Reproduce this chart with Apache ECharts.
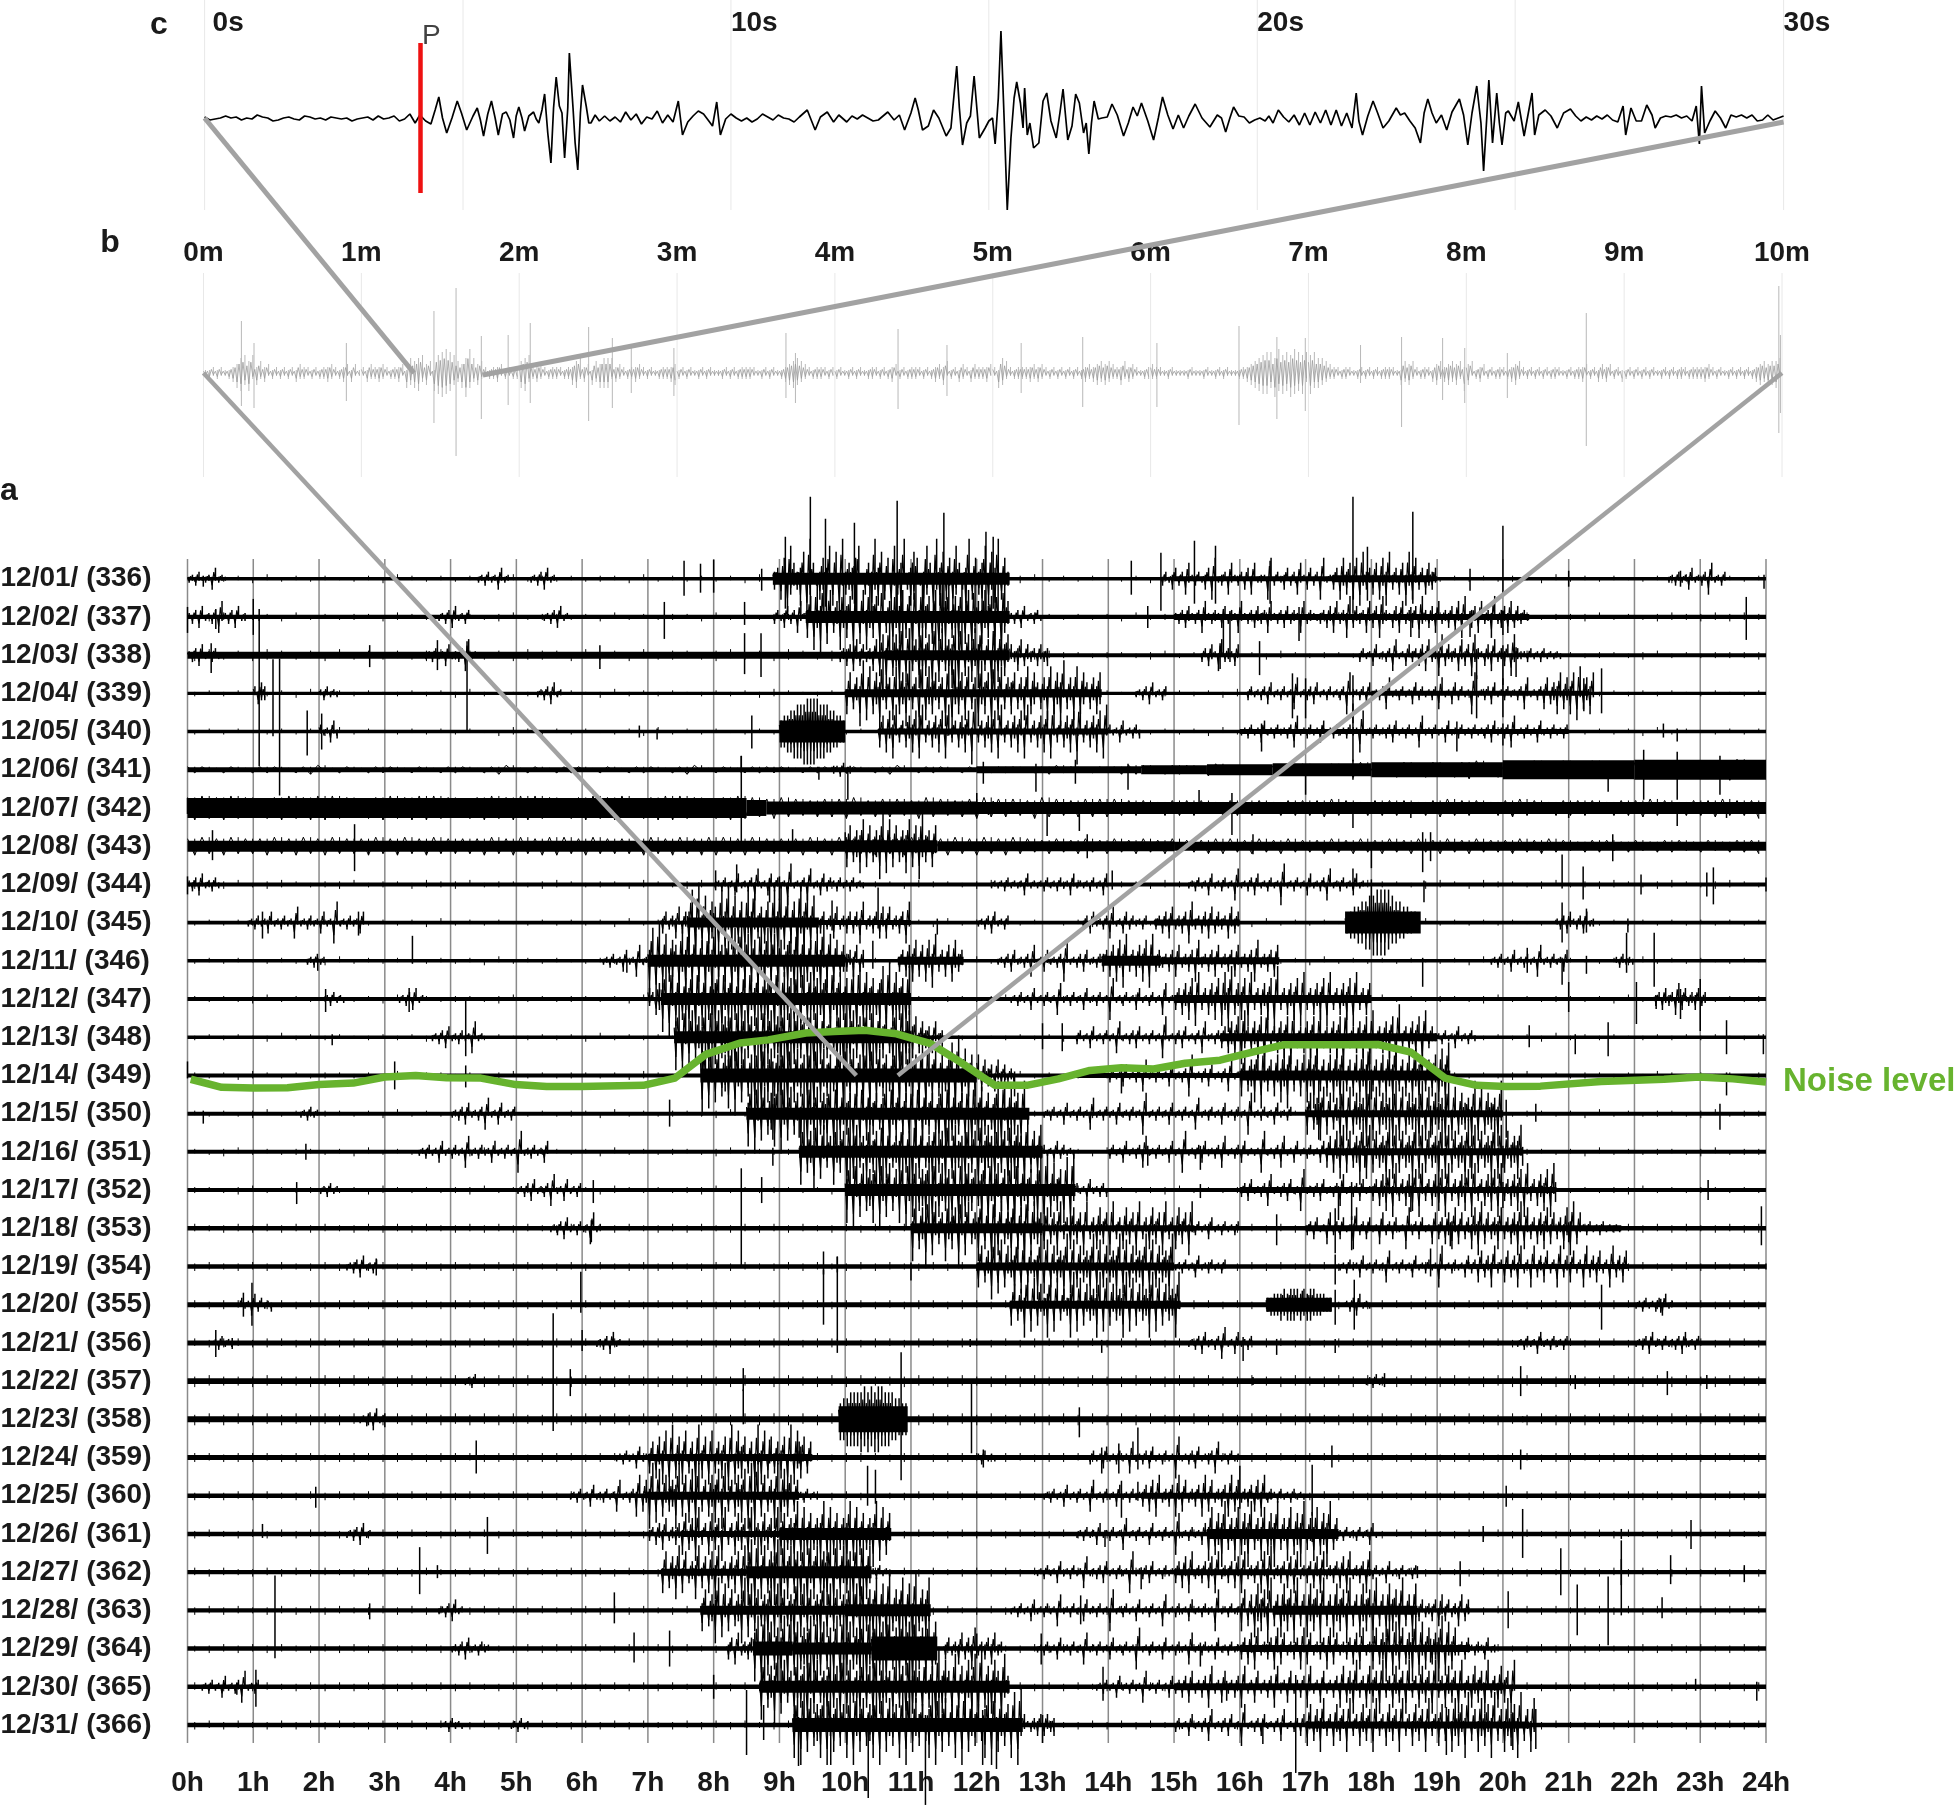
<!DOCTYPE html>
<html><head><meta charset="utf-8">
<style>html,body{margin:0;padding:0;background:#fff}#c{width:1954px;height:1805px;overflow:hidden}</style>
<script src="https://cdn.jsdelivr.net/npm/echarts@6/dist/echarts.min.js"></script>
</head><body><div id="c"></div>
<script>
const hourLabels = Array.from({length:25},(_, i)=>i+'h');
const dayLabels = ['12/01/ (336)','12/02/ (337)','12/03/ (338)','12/04/ (339)','12/05/ (340)','12/06/ (341)','12/07/ (342)','12/08/ (343)','12/09/ (344)','12/10/ (345)','12/11/ (346)','12/12/ (347)','12/13/ (348)','12/14/ (349)','12/15/ (350)','12/16/ (351)','12/17/ (352)','12/18/ (353)','12/19/ (354)','12/20/ (355)','12/21/ (356)','12/22/ (357)','12/23/ (358)','12/24/ (359)','12/25/ (360)','12/26/ (361)','12/27/ (362)','12/28/ (363)','12/29/ (364)','12/30/ (365)','12/31/ (366)'];
const secondGrid = [0,4.91,10,14.9,20,24.9,30];
const minuteGrid = [0,1,2,3,4,5,6,7,8,9,10];

// Noise level curve: [hour, row position]
const noiseLevel = [[0.05,13.1],[0.52,13.31],[1,13.33],[1.52,13.32],[2,13.24],[2.52,13.2],[3,13.04],[3.47,13],[3.94,13.06],[4.46,13.07],[4.99,13.24],[5.46,13.29],[5.98,13.29],[6.93,13.26],[7.41,13.07],[7.88,12.45],[8.4,12.15],[8.83,12.07],[9.4,11.89],[9.83,11.85],[10.3,11.82],[10.78,11.91],[11.3,12.17],[11.75,12.65],[12.28,13.26],[12.76,13.26],[13.24,13.09],[13.72,12.87],[14.2,12.8],[14.69,12.83],[15.17,12.68],[15.7,12.6],[16.19,12.39],[16.66,12.2],[17.6,12.2],[18.1,12.19],[18.6,12.39],[19.12,13.07],[19.6,13.26],[20.04,13.29],[20.57,13.28],[21.49,13.16],[22.45,13.1],[22.98,13.04],[23.5,13.09],[24,13.17]];

// Panel a: solid trace thickness per day: [from h, to h, half thickness]
const bandRows = [
[[0,24,1.8],[8.9,12.5,6],[15,19,2.5],[17.4,18.9,3.5]],
[[0,24,2.2],[9.4,12.5,6],[15,20.4,3]],
[[0,12.5,3.5],[12.5,24,2],[10.6,12.5,5]],
[[0,24,1.6],[10,13.3,4],[13,13.9,4],[18,21.3,2.5]],
[[0,24,1.7],[9,10,11],[10.5,14,3],[16,21,2.5]],
[[0,12,2.5],[12,14.5,3.5],[14.5,15.5,4.5],[15.5,16.5,5.5],[16.5,18,6.5],[18,20,7.5],[20,22,9.5],[22,24,10]],
[[0,8.5,10],[8.5,8.8,8],[8.8,12,6.5],[12,24,6]],
[[0,10,5.5],[10,11.4,6],[11.4,15,5],[15,24,4.5]],
[[0,24,2]],
[[0,24,1.8],[7.6,9.6,5],[9.6,11,2.5],[14.7,16,3],[17.6,18.75,11]],
[[0,24,1.8],[7,10,6],[10.8,11.8,4],[13.9,14.8,5],[14.8,16.6,3.5]],
[[0,24,2],[7.2,11,6],[15,18,4]],
[[0,24,1.8],[7.4,11,6],[15.7,19,4]],
[[0,24,2],[7.8,12,7],[16,19.2,5],[13.5,16,2.5]],
[[0,24,2],[8.5,12.8,6],[17,20,3.5]],
[[0,24,2],[9.3,13,6],[17.3,20.3,3.5],[14,17.3,2.5]],
[[0,24,2],[10,13.5,6],[16,20.8,3]],
[[0,24,2.3],[11,13,5],[13,15.3,3],[17,21.8,3]],
[[0,24,2.2],[12,15,4],[19.5,21.9,2.5]],
[[0,24,2.5],[12.5,15.1,4],[16.4,17.4,7]],
[[0,24,2.5]],
[[0,24,2.8]],
[[0,24,3],[9.9,10.95,13]],
[[0,24,2.5],[7,9.5,3.5]],
[[0,24,2.2],[7,9.3,4],[14.5,16.5,3]],
[[0,24,2.2],[7.5,9,3],[9,10.7,6],[15.5,17.5,5]],
[[0,24,2.2],[7.2,8.5,3.5],[8.5,10.4,6],[15,18,3]],
[[0,24,2.2],[7.8,10,4.5],[10,11.3,6],[16.5,18.7,4.5]],
[[0,24,2.2],[8.6,9.2,7],[9.2,10.4,6],[10.4,11.4,12],[16,19.5,3.5]],
[[0,24,2.2],[8.7,12.5,6],[15,20,3.5]],
[[0,24,2.2],[9.2,12.7,7],[17,20.4,3.5]]
];

// Panel a: small roughness of the trace across each whole day
const fuzzRows = [
"1212131212112132121211312121221312121213211212213121121212312121121321212212131212113212121221312121121321212",
"2132121312122132121212312212131212213121222131212123121221321212131221212131212321212231212131222312123223232",
"3423243232423232342323243324232423323423243234232332423243232212212312121213212212131212212132121221231212222",
"1212112131212112121312112121131212112121321121212112131212121312112121213211212131212121131212112121212112112",
"1212112121312112121211321212112131212112121321211212131212112132121212131212112132121211213121211212131211212",
"2212122123121221212212312122121221231212221221212312212122123212233233243323343435445454564556565655656566576",
"7878767878876787887678788767878678876787676566756657656766576566655455545554555654555456554565455545565455655",
"5656556565655656565556565665655565656656555656556565565656545454545454455454544545454545454454543443434434344",
"2323123212231221322312212321221321232122123123122132212312212321221322132212312213221232132212312232123212321",
"1212121312121212131212112121213121211212131212121121312121211213121212112131212112121312121211213121212121212",
"1212112121312121121213121211212131212112121312121211213121212112131212112121213121212112131212121121312121121",
"2121231212212131212212312122121312122123121221213121221231212212131212212312122121312122123121221213121221212",
"1212113121211212131212112121312121121213121211212131212112121312121121213121211212131212112121312121121212112",
"2121321212212131221212312122121321212212312122121312212123121221213212122123121221213122121231212212132121212",
"2121231212212131212212312122131212212312122121312122123121221213121221231212212131212212312122121312122123122",
"2123121221213121221231212212131212212312122121312122123121221213121221231212212131212212312122121312122123122",
"2212312122121321212231212212132121223121221213212122312122121321212231212212132121223121221213212122312122121",
"3223232323223232322323232232323223232232323223232322323232232323223232322323232232323223232232323223232322323",
"2322323223232322323223232232322323223232232322323223232322323223232232322323223232232322323223232232322323223",
"3233233232332332323323323233233232332332323323323233233232332332323323323233233232332332323323323233233232332",
"3233233233233233232332332333233233232332332333233233233232332332333233233233232332332333233233232332332332332",
"3433343334343334334334343334334334343343343343433343343343433343343343433433433434334334334343343343343433433",
"3434343434343343434343433434343434334343434343343434343433434343434334343434343343434343433434343434334343434",
"3323332332333233233323323332332333233233323323332332333233233323323332332333233233323323332332333233233323323",
"2323232232323223232322323232232323223232322323232232323223232322323232232323223232322323232232323223232322323",
"2322323232232323223232322323232232323223232322323232232323223232322323232232323223232322323232232323223232322",
"3232232323223232322323232232323223232322323232232323223232322323232232323223232322323232232323223232322323232",
"2323223232322323232232323223232322323232232323223232322323232232323223232322323232232323223232322323232232323",
"2232323223232322323232232323223232322323232232323223232322323232232323223232322323232232323223232322323232232",
"3223232232323223232322323232232323223232322323232232323223232322323232232323223232322323232232323223232322323",
"2323223232322323232232323223232322323232232323223232322323232232323223232322323232232323223232322323232232323"
];
const thickRows = [5,6,7];

// Panel a: envelope read per stretch of the day: [from h, to h, digits]
const burstRows = [
[[0,0.6,"121311214121"],[4.4,4.9,"1213121412"],[5.2,5.6,"12131412"],[8.9,12.5,"3426185347295136482719354682153947261835924761385294716385249163582749163"],[14.8,17.4,"1312413152131241612315213141512216131241315214131612"],[17.4,19,"24163526173425163724152736241534"],[22.5,23.4,"121312141213151213"]],
[[0,0.9,"213141213152131412"],[3.8,4.3,"1213141213"],[5.4,5.8,"12131412"],[8.9,9.4,"1312413152"],[9.4,12.5,"36284927153846291738462915384726193846271958364827195374628195"],[12.5,13,"2131412131"],[15,17.2,"21314213152132141321521314231521314132151321"],[17.2,20.4,"2314251326142315241632142513241631425132415261342513261342514231"]],
[[0,0.5,"2131412131"],[3.6,4.4,"1213121412131512"],[9.9,10.6,"13241524132516"],[10.6,12.5,"38264927153846291735482916374825193746"],[12.5,13.1,"423514231423"],[15.4,16,"131421513214"],[17.8,18.6,"1312141213151214"],[18.6,20.3,"2314251326142315241632142513241632"],[20.3,20.9,"213121312121"]],
[[1,1.2,"3143"],[2,2.3,"213121"],[5.3,5.7,"12131412"],[10,12.5,"26153827164935172648351927463518294637152846193725"],[12.5,13.9,"4615372641537264815372641536"],[14.4,14.9,"1213141213"],[16.1,20.6,"131213141213121512131412131213161213141213151213121413121315121413121612131412131213151213"],[20.6,21.4,"2514362536172536"]],
[[2,2.3,"312141"],[9,10,"45566777888877766554"],[10.5,14,"2516372415362714253617241536281425361724153627142536172415362814253617"],[14,14.5,"3121412131"],[16,21,"1213121412131213151213121412131213121612131213141213121512131214121312131213141213151213121412131213"]],
[[9.8,10.1,"221312"]],
[[12,12.5,"1213121"]],
[[10,11.4,"3615472635481736254716384526"]],
[[0,0.5,"2131412131"],[8,9.8,"121312141213151214131216121315121413"],[9.8,10.3,"2131213121"],[12.2,14,"121213121214121213121312141212131214"],[15.2,17.9,"121312141213121512131412131216121312141213151213121412"]],
[[0.9,2.7,"121312141213121512131214121612131214"],[7.2,7.6,"24132514"],[7.6,9.6,"4829371652849371628493516284937261948372"],[9.6,11,"2413251324142613241525132416"],[12,12.5,"1213141213"],[13.6,14.6,"13141213151214131213"],[14.7,16,"23142513241623142514231524"],[17.6,18.75,"34556677888876655443"],[20.8,21.4,"213142131412"]],
[[1.8,2.1,"121312"],[6.3,7,"12131214121512"],[7,10,"482937165284937162849351628493726194837261584937261849372615"],[10,10.3,"342514"],[10.8,11.8,"24153625163724152634"],[12.3,13.9,"12131412131512141213161213141213"],[13.9,14.8,"341526371425361724"],[14.8,16.6,"231425132416231425132415231426132415"],[19.8,21,"121312141213121512131214"],[21.7,22,"213121"]],
[[2.1,2.4,"213121"],[3.2,3.6,"12131412"],[7,7.2,"4315"],[7.2,11,"5829371648293716582947163829471658293746182937461582947361829374615829374618"],[12.5,15,"12131214121312151213121412131216121312141213121512"],[15,18,"241536271425361748253617241536281425361724153627142536172415"],[22.3,23.1,"2314231524132413"]],
[[3.7,4.5,"1213141213121512"],[7.4,11,"582937164829371658294716382947165829374618293746158294736182937461582937"],[11,11.5,"4625341523"],[13.5,15.7,"13121412131215121314121312161213141213151213"],[15.7,19,"241536274153628142536172415362714253618241536271425361824153627142"],[19,19.6,"213121412131"]],
[[7.8,12,"692837165829471638294716582937461829374615829473618293746158293746182947361582937461"],[12,12.6,"625341524132"],[14,16,"1312141213151213121412131612131412131512"],[16,19.2,"3615472835163748251637482516374825163749251637482516374825163748"]],
[[1.7,2,"121312"],[4,5,"12131412131512141213"],[8.5,12.8,"48293716582947163829471658293746182937461582947361829374615829374618294736158293746182"],[13,16.8,"1213121412131215121312141213121612131214121312151213121412131216121312141213"],[17,20,"361547261538271645382716453827164538271645382716453827164538"]],
[[3.5,5.5,"1213121412131215121312141213121612131214"],[9.3,13,"38264917352846193725384619273548162937254816392745183629475183629475182637"],[13,13.5,"3121413121"],[14,17.3,"131214121315121312141216121314121315121314121216121315121412131214"],[17.3,20.3,"251637261548271635482716354827163548271635482716354827163547"]],
[[2,2.3,"121312"],[5,6,"12131412131512141213"],[10,13.5,"4829371658294716382947165829374618293746158294736182937461582937461829"],[13.5,14,"3121412131"],[16,18,"1314121315121314121612131412131512131412"],[18,20.8,"24153627142536172415362714253617241536271425361724153627"]],
[[5.5,6.3,"1213141213121512"],[11,13,"3826491735284619372548162937254816392745"],[13,15.3,"2615372416352714263517241635271426351724163527"],[15.3,16,"13121412131213"],[17,19,"1314121513141216131412151314121613141215"],[19,21.2,"24153625142637152436142537162415362514263715"],[21.2,21.8,"213121312121"]],
[[2.4,2.9,"1213141213"],[12,15,"261538271634827153482716354827163548271635482716354827163548"],[15,15.8,"1213121412131213"],[17.5,19.5,"1213121412131215121312141213121612131214"],[19.5,21.9,"131514261315142613161425131614251316142513161425"]],
[[0.8,1.3,"3121413121"],[12.5,15.1,"2615382716348271534827163548271635482716354827163548"],[16.4,17.4,"33444545554545544433"],[17.6,18,"21314121"],[22,22.6,"121312131412"]],
[[0.4,0.7,"213121"],[6.2,6.6,"12131412"],[15.2,16.2,"12131412131512141213"],[20.2,21,"1213121412131213"],[22,23,"12131412131213141213"]],
[[4.2,4.4,"1213"],[17.9,18.2,"121312"]],
[[2.6,3,"12131412"],[9.9,10.95,"56677778787887776655"]],
[[6.5,7,"1213121412"],[7,9.5,"25163718263715283617253618274615283716253618274615"],[12,12.3,"213121"],[13.7,16,"1312141213121512131412131216121314121315121312"]],
[[5.8,6.8,"12131214121312151213"],[6.8,9.3,"26153827163548261738251647382516472839261538274615"],[9.3,9.6,"213121"],[13,14.5,"121312141213121512131214121312"],[14.5,16.5,"2415261324162513241625132416251324152613"],[16.5,17,"2131213121"]],
[[2.4,2.8,"12131412"],[7,7.5,"2314251324"],[7.5,9,"261537241635271426351724163527"],[9,10.7,"3615482736154827361548273615482736"],[13.5,15.5,"1213121412131215121312141213121612131214"],[15.5,17.5,"3716482537164825371648253716482537164825"],[17.5,18.1,"213121312141"]],
[[7.2,8.5,"26153726143725163724153627"],[8.5,10.4,"48293716582947163829471658293746182937"],[10.4,10.7,"213121"],[12.9,15,"121312141213121512131412131216121314121312"],[15,18,"241526132415261324152613241627132415261324152613241526132416"],[18,18.7,"13121412131213"]],
[[3.8,4.2,"12131412"],[7.8,10,"36154827361548273615482736154927361548273615"],[10,11.3,"48273916482739164827391648"],[12.5,16,"1213121412131215121312141213121612131214121312151213121412131216121312"],[16,18.7,"361527463815274638152746381527463815274638152746381527"],[18.7,19.5,"2413241524132514"]],
[[4,4.6,"121314121312"],[8.2,8.6,"24151324"],[8.6,10.4,"582937164829371658294716382947165829"],[10.4,11.4,"58374926481739264837"],[11.5,12.4,"241325142613241523"],[12.9,16,"12131214121312151213121412131216121312141213121512131214121312"],[16,18,"2415261324162513241625132416251324152613"],[18,19.3,"36154827361548273615482736"],[19.3,19.9,"231421321412"]],
[[0.2,1.1,"121312141213151213"],[8.7,12.5,"3826491735284619372548162937254816392745183629475183629475182637482916375284"],[13.8,15,"121312141213121512131214"],[15,17.5,"13141513141613151314161315131416131513141613151314"],[17.5,20.2,"261537241635271426351724163527142635172416352714263517"]],
[[3.9,4.2,"213121"],[4.9,5.2,"121312"],[9.2,12.7,"4829371658294716382947165829374618293746158294736182937461582937461829"],[12.7,13.2,"4213241423"],[15,17,"1312141213151213141216121314121315121314"],[17,19,"2615372416352714263517241635271426351724"],[19,20.5,"361527463815274638152746381527"]]
];

// Panel a: single tall spikes per day: [hour, up, down]
const spikeRows = [
[[0.24,3,8],[7.55,18,17],[7.8,15,14],[8,19,14],[8.73,10,12],[9.09,42,30],[9.47,82,30],[9.7,60,28],[10.14,56,25],[10.79,78,35],[11.5,66,32],[12.14,47,36],[12.25,42,30],[14.35,18,16],[14.8,26,32],[15.31,38,25],[15.63,33,25],[16.46,18,25],[17.72,82,35],[17.94,32,22],[18.63,67,25],[19.5,10,12],[20,53,15],[21,8,8],[22.7,8,8],[23.97,4,10]],
[[0,10,16],[0.43,8,12],[1,18,18],[1.09,8,4],[7.25,15,22],[8.47,15,8],[14.6,11,11],[15.75,8,40],[15.85,6,45],[16.9,10,24],[18.6,10,20],[19.5,6,20],[20,6,18],[23.7,20,23]],
[[0.36,12,18],[2.77,10,12],[3.8,15,15],[6.27,10,14],[8.47,22,19],[8.72,22,22],[15.7,12,14],[16.3,14,20],[19.6,6,24],[20,10,30],[20.2,8,22]],
[[1.09,75,73],[1.3,34,43],[4.25,52,38],[16.8,20,25],[17,15,25],[17.72,18,30],[19.6,18,25],[20,15,24],[21.23,15,18],[21.5,25,20]],
[[1.4,73,64],[1.82,21,24],[2.04,18,18],[6.87,6,6],[7.14,3,8],[8.58,16,17],[16.33,8,20],[17.72,28,30],[19.3,10,20],[20,8,14],[22.44,8,6],[22.65,3,10]],
[[8.42,14,3],[9.6,3,10],[10.04,3,30],[12.1,8,14],[12.9,6,22],[13.5,10,14],[14.3,6,20],[17,3,25],[17.72,10,10],[21.6,8,22],[22.14,20,30],[22.65,18,30],[23.3,14,25]],
[[0,10,6],[8.42,52,38],[12,15,8],[13.07,3,28],[13.56,3,23],[15.38,18,4],[15.88,15,27],[17.72,4,20],[18.6,3,10],[21,3,10],[22.65,3,18],[23.4,3,10]],
[[0.38,16,14],[2.54,22,25],[9.2,17,3],[10,14,3],[13.68,12,12],[16.2,12,8],[18,3,22],[18.78,14,26],[18.9,14,15],[21.67,12,15]],
[[0,8,10],[8.03,14,6],[8.35,20,8],[8.85,6,18],[9,8,16],[14.06,14,5],[17.72,16,4],[18,5,28],[18.8,4,18],[20.9,30,4],[21.22,18,15],[22.1,10,10],[23.1,12,12],[23.2,17,20],[24,7,7]],
[[1.14,11,16],[2.6,11,13],[9.8,22,8],[10.5,35,6],[11.4,4,12],[20.9,20,20],[21.27,14,10],[21.9,4,10]],
[[1.98,3,10],[3.42,25,3],[6.68,3,12],[10.42,20,8],[18.78,3,26],[20.37,13,12],[20.9,3,24],[21.27,5,13],[21.88,28,12],[22.3,28,26]],
[[2.1,10,13],[3.37,11,13],[21,17,13],[22.03,17,25],[22.33,3,10],[22.7,10,20],[23,20,32]],
[[2.2,3,8],[4.23,37,19],[13,14,12],[13.3,14,14],[20.4,12,10],[21.1,3,17],[21.6,15,19],[23.4,17,17],[23.96,3,17]],
[[0,14,3],[3.15,14,14],[4.23,10,12],[8.9,14,40],[14.2,6,18],[17.2,6,28],[18,6,24],[23.4,3,20]],
[[0.24,3,10],[7.33,14,13],[8.9,6,26],[9.3,6,24],[17.2,10,26],[18.9,8,24],[20.05,14,24],[20.5,10,8],[23.3,10,16]],
[[1.8,8,8],[8.9,4,14],[14.6,6,14],[15.4,6,18],[17.9,6,16],[19.5,6,16],[20,6,16],[20.3,5,14]],
[[1.66,8,14],[6.17,10,13],[8.73,13,13],[15.4,6,8],[17.5,4,30],[17.7,8,30],[18.6,4,22],[20,8,18],[20.8,8,12],[23.12,10,10]],
[[8.42,60,37],[6.14,8,14],[16.56,14,17],[17.45,20,25],[17.7,12,22],[19.2,6,18],[21,6,14],[23.93,22,17]],
[[2.87,8,9],[9.67,15,8],[9.88,10,6],[11,4,14],[17.45,12,18],[18.9,18,10],[24,3,3]],
[[0.98,22,21],[0.85,12,12],[5.98,33,8],[9.67,35,20],[9.88,48,35],[16.95,14,6],[17.45,15,20],[17.74,25,25],[21.5,20,25],[22.4,6,8]],
[[0.43,13,14],[0.68,5,6],[6,13,8],[9.88,4,10],[11.9,4,4],[13.9,3,10],[16.05,6,18],[16.56,4,12],[17.45,4,10]],
[[5.56,68,50],[5.82,12,15],[8.45,13,10],[16.2,4,4],[18.2,8,6],[20.27,15,15],[21.1,6,8],[22.5,10,14],[23.1,6,8]],
[[2.75,6,6],[3,6,8],[8.45,30,5],[10.85,67,61],[11.92,36,34],[13.56,12,18],[20.3,3,3]],
[[4.39,17,16],[8.85,18,6],[9.3,16,6],[12.1,8,10],[13.9,10,16],[14.16,14,16],[14.45,30,12],[17.4,12,10],[20.27,8,12]],
[[1.95,9,12],[10.34,30,10],[10.46,26,8],[14.2,15,22],[14.45,14,5],[16,30,13],[17.1,31,20],[20.05,10,11]],
[[1.14,10,4],[4.56,17,20],[13.95,4,13],[17.1,22,8],[19.7,8,8],[20.3,25,24],[21.8,5,5],[22.86,14,15]],
[[3.53,25,22],[3.8,7,6],[14.5,5,17],[18.7,6,6],[19.35,11,14],[20.88,24,23],[21.8,13,13],[22.55,17,12],[23.67,7,10]],
[[1.33,35,48],[2.77,7,9],[6.49,18,13],[13.58,15,14],[20.08,19,18],[21.13,26,25],[21.6,34,35],[21.8,70,5],[22.42,13,8]],
[[6.79,16,14],[7.33,18,18],[12,15,10],[12.98,15,16],[15.4,6,18],[18.9,10,14]],
[[1.04,17,20],[0.75,4,8],[8,12,12],[13.92,20,14],[15.8,6,14],[22.93,8,4],[23.86,5,14]],
[[8.5,35,30],[8.76,20,15],[9.29,8,41],[9.78,8,40],[10.35,10,73],[11.22,10,80],[12.09,15,40],[12.3,8,44],[13,10,18],[16.35,5,19],[16.85,50,48],[19.14,18,30],[20.15,12,25],[20.5,16,24]]
];
// Amplitude for each envelope digit
const digitAmp = [0,2,4,7,11,16,21,27,33,40];

// Panel b: envelope per minute
const minuteEnvelope = [
"1121211235646242312121213221212232123131",
"2132232122315456341678764358534212231212",
"4563232122212245231435552321223212112223",
"1212112121112121222211212112345432122212",
"1211212112212123121222121232412132132223",
"2154212222323212121212123234343224232112",
"3221121111211121121211122345677586768767",
"6755432212211212121222114342122134234342",
"3412312122123421212121221121223121323121",
"1212121211212122122223212112121212343445"];
// Panel b: single tall spikes: [minute, up, down]
const minuteSpikes = [[0.24,52,33],[0.32,30,35],[0.905,30,28],[1.46,62,50],[1.6,85,83],[1.76,37,46],[1.93,38,32],[2.07,50,30],[2.44,46,48],[2.59,35,35],[2.71,25,20],[2.98,25,23],[3.69,40,25],[3.75,20,30],[4.4,44,36],[4.71,28,23],[5.18,30,20],[5.57,36,34],[6.04,30,34],[6.56,47,52],[6.8,36,46],[6.98,35,38],[7.33,28,10],[7.59,36,54],[7.85,35,27],[7.99,25,30],[8.26,20,25],[8.76,60,73],[9.98,87,60],[9.99,38,40]];

// Panel c: trace [second, amplitude]
const traceC = [[0,1],[.1,-2],[.2,-1],[.3,0],[.4,2],[.5,0],[.6,1],[.7,-2],[.8,0],[.9,-1],[1,3],[1.1,1],[1.2,0],[1.3,-3],[1.4,-2],[1.5,0],[1.6,1],[1.7,-1],[1.8,-2],[1.9,2],[2,1],[2.1,-1],[2.2,0],[2.3,-2],[2.4,1],[2.5,0],[2.6,-1],[2.7,0],[2.8,-3],[2.9,-1],[3,0],[3.1,1],[3.2,-2],[3.3,2],[3.4,-1],[3.5,0],[3.6,2],[3.7,-3],[3.8,-1],[3.9,4],[4,-5],[4.09,3],[4.2,-3],[4.3,-6],[4.38,8],[4.45,21],[4.52,0],[4.6,-15],[4.7,0],[4.8,17],[4.88,5],[4.98,-12],[5.1,2],[5.18,10],[5.24,-2],[5.3,-18],[5.38,4],[5.45,17],[5.52,0],[5.58,-17],[5.66,4],[5.73,6],[5.8,-2],[5.87,-20],[5.92,2],[5.97,11],[6.03,0],[6.08,-13],[6.16,2],[6.25,6],[6.3,-1],[6.35,-5],[6.41,8],[6.46,24],[6.52,-15],[6.58,-45],[6.63,10],[6.68,41],[6.74,12],[6.79,5],[6.84,-40],[6.9,10],[6.93,65],[7,10],[7.04,-25],[7.09,-52],[7.14,5],[7.18,33],[7.25,12],[7.3,-5],[7.34,-5],[7.42,3],[7.5,-3],[7.6,2],[7.7,-3],[7.8,1],[7.9,-4],[8,6],[8.1,-2],[8.2,4],[8.3,-6],[8.4,1],[8.5,-1],[8.6,7],[8.7,-5],[8.8,3],[8.9,-4],[9,17],[9.08,-17],[9.18,-4],[9.28,2],[9.38,7],[9.48,4],[9.58,-3],[9.65,-8],[9.73,16],[9.8,-17],[9.9,-1],[10,4],[10.1,0],[10.2,-3],[10.3,0],[10.4,-4],[10.5,-1],[10.6,4],[10.7,1],[10.8,-2],[10.9,3],[11,0],[11.1,-1],[11.2,-4],[11.3,1],[11.45,8],[11.6,-12],[11.7,1],[11.83,6],[11.95,-4],[12.05,3],[12.2,-4],[12.3,2],[12.4,-1],[12.5,3],[12.6,0],[12.7,-3],[12.8,-2],[12.98,6],[13.1,-2],[13.2,3],[13.3,-12],[13.42,5],[13.5,20],[13.56,8],[13.64,-12],[13.75,-8],[13.85,8],[13.95,0],[14.09,-18],[14.18,-10],[14.29,52],[14.34,10],[14.4,-27],[14.48,-5],[14.55,2],[14.62,42],[14.68,5],[14.72,-20],[14.83,-10],[14.9,-3],[14.97,0],[15.02,-26],[15.08,20],[15.13,87],[15.19,0],[15.25,-92],[15.32,-20],[15.38,20],[15.43,36],[15.5,15],[15.55,-10],[15.58,30],[15.63,-17],[15.68,-5],[15.75,-30],[15.85,-25],[15.93,17],[16,25],[16.08,-3],[16.18,-20],[16.25,5],[16.31,29],[16.4,-22],[16.48,-8],[16.55,24],[16.62,15],[16.7,-15],[16.75,-5],[16.8,-36],[16.85,-5],[16.9,17],[16.98,-1],[17.05,0],[17.15,1],[17.24,14],[17.34,3],[17.46,-18],[17.55,-5],[17.64,11],[17.72,2],[17.8,15],[17.92,-3],[18.03,-22],[18.12,0],[18.2,21],[18.3,3],[18.4,-11],[18.5,3],[18.6,-10],[18.7,2],[18.82,14],[18.95,0],[19.1,-9],[19.24,3],[19.32,0],[19.4,-14],[19.48,0],[19.55,11],[19.65,2],[19.75,1],[19.85,-5],[19.95,-2],[20.05,0],[20.15,-3],[20.22,2],[20.3,-5],[20.4,8],[20.5,1],[20.6,-4],[20.7,3],[20.8,-7],[20.9,5],[21,-7],[21.1,6],[21.2,-5],[21.3,8],[21.4,-7],[21.5,8],[21.6,-8],[21.7,5],[21.8,-10],[21.88,25],[21.93,-3],[22,-17],[22.1,2],[22.2,17],[22.28,6],[22.39,-10],[22.5,-3],[22.64,10],[22.72,3],[22.8,5],[22.9,-3],[23,-10],[23.1,-25],[23.17,5],[23.24,19],[23.32,5],[23.4,-5],[23.5,3],[23.6,-12],[23.7,6],[23.84,19],[23.92,3],[24,-27],[24.08,5],[24.17,32],[24.25,-5],[24.3,-53],[24.36,0],[24.4,38],[24.47,-25],[24.55,25],[24.6,-5],[24.65,-27],[24.72,5],[24.77,7],[24.88,-3],[24.96,16],[25.07,-18],[25.15,5],[25.22,25],[25.27,-17],[25.35,3],[25.47,8],[25.58,2],[25.7,-10],[25.82,5],[25.95,9],[26.05,2],[26.15,-3],[26.25,1],[26.35,-2],[26.45,2],[26.55,-1],[26.65,3],[26.75,-2],[26.85,-4],[26.95,12],[27,-17],[27.1,10],[27.2,-3],[27.3,-3],[27.4,13],[27.5,3],[27.56,-10],[27.66,0],[27.76,2],[27.86,1],[27.96,3],[28.06,0],[28.16,2],[28.26,-3],[28.34,12],[28.4,-26],[28.44,32],[28.5,-15],[28.6,-3],[28.7,7],[28.8,0],[28.9,-10],[29,3],[29.1,1],[29.2,3],[29.3,0],[29.4,3],[29.5,-3],[29.6,-2],[29.7,3],[29.8,-2],[29.9,0],[30,2]];
const pickTime = [[4.09,75,-75]];
// Zoom connectors: [from panel, x, y, to panel, x, y]
const connectors = [[0,0,0,1,1.333,0],[0,30,-4,1,1.77,-2],[1,0,0,2,10.17,13],[1,10,0,2,10.8,13]];

const ROW = 38.23, BLACK = '#000', FONT = '"Liberation Sans",Arial,sans-serif';

// Turn each digit string into vertical strokes plus a tighter alternating trace
function addStrokes(out,s,from,to,d,amp){
 const n=s.length, step=(to-from)/n;
 for(let i=0;i<n;i++) out.push([from+step*(i+.5),d,amp(+s[i]),amp(+s[(i+1)%n])]);
}
function addTrace(out,s,from,to,d,amp,scale){
 const n=s.length, step=(to-from)/n;
 for(let i=0;i<n;i++){
  out.push([from+step*i,d-amp(+s[i])/scale]);
  out.push([from+step*(i+.5),d+amp(+s[(i+1)%n])/scale]);
 }
 out.push([to,null]);
}
const bandData = [], strokeData = [], burstTrace = [], fuzzData = [], fuzzTrace = [], bTrace = [], bStrokes = [];
bandRows.forEach((r,d)=>r.forEach(b=>bandData.push([b[0],d,b[1],b[2]])));
burstRows.forEach((r,d)=>r.forEach(b=>{addStrokes(strokeData,b[2],b[0],b[1],d,v=>digitAmp[v]);addTrace(burstTrace,b[2],b[0],b[1],d,v=>digitAmp[v]*0.6,ROW);}));
fuzzRows.forEach((s,d)=>{addStrokes(fuzzData,s,0,24,d,v=>v*1.5);if(thickRows.includes(d))addTrace(fuzzTrace,s,0,24,d,v=>v*1.5,ROW);});
spikeRows.forEach((r,d)=>r.forEach(s=>strokeData.push([s[0],d,s[1],s[2]])));
minuteEnvelope.forEach((s,m)=>{
 for(let i=0;i<s.length;i++) bStrokes.push([m+(i+.5)/s.length,+s[i]*3,+s[(i+1)%s.length]*3]);
 addTrace(bTrace,s,m,m+1,0,v=>v*1.8,-1);
});
minuteSpikes.forEach(s=>bStrokes.push(s));

function gridSeries(idx,data,color,w,z){return {type:'custom',xAxisIndex:idx,yAxisIndex:idx,clip:false,silent:true,animation:false,progressive:0,encode:{x:0,y:1},z,data,renderItem:(p,api)=>{
 const a=api.coord([api.value(0),api.value(1)]),b=api.coord([api.value(0),api.value(2)]);
 return {type:'line',shape:{x1:a[0],y1:a[1],x2:b[0],y2:b[1]},style:{stroke:color,lineWidth:w}};}};}
const traceSeries=(idx,data,color,w,z)=>({type:'line',xAxisIndex:idx,yAxisIndex:idx,data,showSymbol:false,symbol:'none',clip:false,silent:true,connectNulls:false,z,lineStyle:{color,width:w}});
const stickSeries=(data,w)=>({type:'custom',xAxisIndex:2,yAxisIndex:2,clip:false,silent:true,animation:false,progressive:0,z:4,encode:{x:0,y:1},data,
 renderItem:(p,api)=>{const x=api.value(0),d=api.value(1),a=api.coord([x,d-api.value(2)/ROW]),b=api.coord([x,d+api.value(3)/ROW]);
  return {type:'line',shape:{x1:a[0],y1:a[1],x2:b[0],y2:b[1]},style:{stroke:BLACK,lineWidth:w}};}});

const chart = echarts.init(document.getElementById('c'),null,{renderer:'canvas',width:1954,height:1805});
const txt = {fontFamily:FONT,fontWeight:'bold',fontSize:28,color:'#1a1a1a'};
const option = {
 animation:false,backgroundColor:'#fff',
 grid:[
  {left:204.6,right:170.4,top:40,height:156,outerBoundsMode:'none'},
  {left:203.5,right:172,top:273,height:204,outerBoundsMode:'none'},
  {left:187.5,right:188,top:540.5,height:1222.7,outerBoundsMode:'none'}
 ],
 xAxis:[
  {gridIndex:0,type:'value',min:0,max:30,interval:10,position:'top',axisLine:{show:false},axisTick:{show:false},splitLine:{show:false},
   axisLabel:Object.assign({},txt,{align:'left',margin:3,formatter:v=>v===0?'{z|0s}':v+'s',rich:{z:Object.assign({},txt,{padding:[0,0,0,8]})}})},
  {gridIndex:1,type:'value',min:0,max:10,interval:1,position:'top',axisLine:{show:false},axisTick:{show:false},splitLine:{show:false},
   axisLabel:Object.assign({},txt,{margin:6,formatter:v=>v+'m'})},
  {gridIndex:2,type:'value',min:0,max:24,interval:1,position:'bottom',axisLine:{show:false},axisTick:{show:false},splitLine:{show:false},
   axisLabel:Object.assign({},txt,{margin:6,formatter:v=>hourLabels[v]})}
 ],
 yAxis:[
  {gridIndex:0,type:'value',min:-78,max:78,show:false},
  {gridIndex:1,type:'value',min:-104,max:100,show:false},
  {gridIndex:2,type:'value',min:-1,max:31,interval:1,inverse:true,axisLine:{show:false},axisTick:{show:false},splitLine:{show:false},
   axisLabel:{fontFamily:FONT,fontWeight:'bold',fontSize:28,color:'#1a1a1a',align:'left',margin:187,formatter:v=>dayLabels[v]||''}}
 ],
 series:[
  gridSeries(0,secondGrid.map(s=>[s,-92,118]),'#e8e8e8',1,1),
  gridSeries(1,minuteGrid.map(m=>[m,-104,100]),'#e8e8e8',1,1),
  gridSeries(2,hourLabels.map((_,h)=>[h,-0.515,30.47]),'#8a8a8a',1.5,1),
  {type:'line',xAxisIndex:0,yAxisIndex:0,data:traceC,showSymbol:false,symbol:'none',clip:false,silent:true,z:3,
   lineStyle:{color:BLACK,width:1.7},
   markLine:{silent:true,symbol:'none',label:{show:false},animation:false,lineStyle:{color:'#ee1111',width:4.5,type:'solid'},
    data:pickTime.map(p=>[{coord:[p[0],p[1]]},{coord:[p[0],p[2]]}])}},
  {type:'scatter',xAxisIndex:0,yAxisIndex:0,data:[[pickTime[0][0]+0.22,82]],symbolSize:0,silent:true,z:3,clip:false,
   label:{show:true,position:'inside',formatter:'P',fontFamily:FONT,fontSize:28,color:'#111'}},
  // panel b
  {type:'custom',xAxisIndex:1,yAxisIndex:1,clip:false,silent:true,animation:false,progressive:0,z:3,encode:{x:0,y:1},data:bStrokes,
   renderItem:(p,api)=>{const a=api.coord([api.value(0),api.value(1)]),b=api.coord([api.value(0),-api.value(2)]);
    return {type:'line',shape:{x1:a[0],y1:a[1],x2:b[0],y2:b[1]},style:{stroke:'#b8b8b8',lineWidth:1}};}},
  traceSeries(1,bTrace,'#9a9a9a',0.8,3),
  // panel a
  {type:'custom',xAxisIndex:2,yAxisIndex:2,clip:false,silent:true,animation:false,progressive:0,z:4,encode:{x:0,y:1},data:bandData,
   renderItem:(p,api)=>{const d=api.value(1),h=api.value(3)/ROW,a=api.coord([api.value(0),d-h]),b=api.coord([api.value(2),d+h]);
    return {type:'rect',shape:{x:a[0],y:a[1],width:b[0]-a[0],height:b[1]-a[1]},style:{fill:BLACK}};}},
  stickSeries(fuzzData,1),
  traceSeries(2,fuzzTrace,BLACK,1,4),
  traceSeries(2,burstTrace,BLACK,1.2,4),
  stickSeries(strokeData,1.5),
  {type:'line',xAxisIndex:2,yAxisIndex:2,data:noiseLevel,showSymbol:false,symbol:'none',clip:false,silent:true,z:6,
   lineStyle:{color:'#67b32e',width:7.5,join:'round'},
   endLabel:{show:true,formatter:'Noise level',distance:17,fontFamily:FONT,fontWeight:'bold',fontSize:33,color:'#67b32e'}}
 ]
};
chart.setOption(option);
const graphic = connectors.map(c=>{
 const a=chart.convertToPixel({gridIndex:c[0]},[c[1],c[2]]),b=chart.convertToPixel({gridIndex:c[3]},[c[4],c[5]]);
 return {type:'line',silent:true,z:50,shape:{x1:a[0],y1:a[1],x2:b[0],y2:b[1]},style:{stroke:'#a2a2a2',lineWidth:c[0]===0?5:4.5}};
});
[['c',159,25],['b',110,243],['a',9,491]].forEach(t=>graphic.push({type:'text',silent:true,z:50,x:t[1],y:t[2],
 style:{text:t[0],font:'bold 32px '+FONT,fill:'#1a1a1a',align:'center',verticalAlign:'middle'}}));
chart.setOption({graphic});
</script></body></html>
